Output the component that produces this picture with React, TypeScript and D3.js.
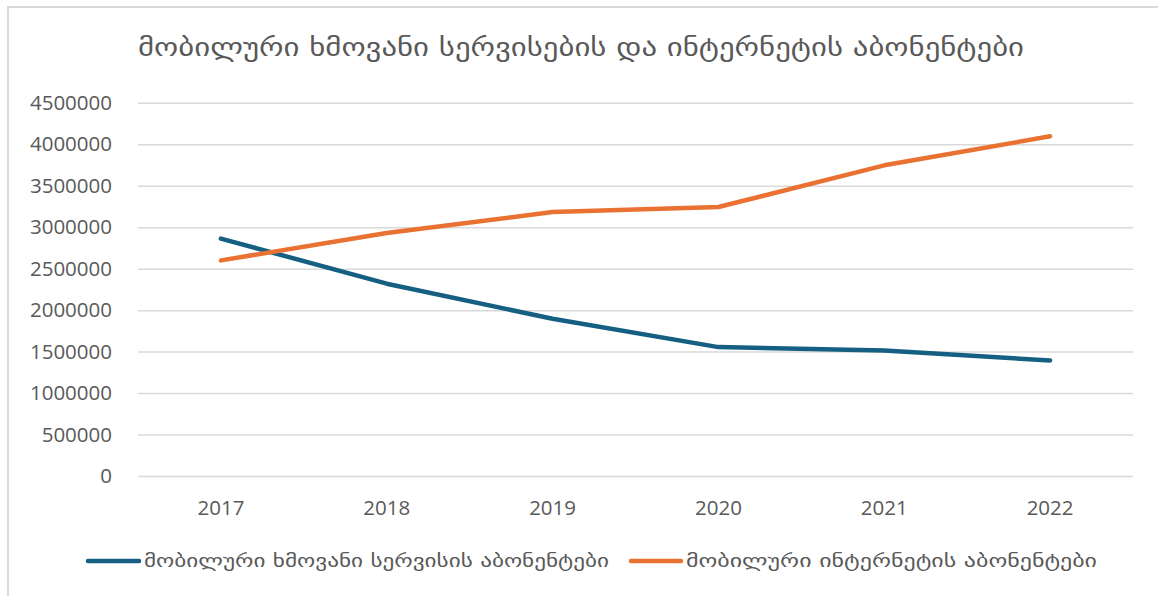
import React from "react";
import * as d3 from "d3";

const years = ["2017", "2018", "2019", "2020", "2021", "2022"];
const voiceSubscribers = [2868000, 2325000, 1902000, 1560000, 1520000, 1399000];
const internetSubscribers = [2606000, 2935000, 3189000, 3249000, 3752000, 4102000];
const yTicks = [0, 500000, 1000000, 1500000, 2000000, 2500000, 3000000, 3500000, 4000000, 4500000];
const titleText = "მობილური ხმოვანი სერვისების და ინტერნეტის აბონენტები";
const voiceLabel = "მობილური ხმოვანი სერვისის აბონენტები";
const internetLabel = "მობილური ინტერნეტის აბონენტები";

const W = 1158;
const H = 596;
const plotLeft = 138;
const plotRight = 1133;
const plotTop = 103.3;
const plotBottom = 476.5;
const blue = "#156082";
const orange = "#E97132";
const textGray = "#595959";
const latin = "'Open Sans', 'Liberation Sans', Arial, sans-serif";
const geo = "'DejaVu Sans', sans-serif";

export default function App() {
  const x = d3.scaleBand<string>().domain(years).range([plotLeft, plotRight]);
  const y = d3.scaleLinear().domain([0, 4500000]).range([plotBottom, plotTop]);
  const cx = (yr: string) => (x(yr) as number) + x.bandwidth() / 2;
  const line = d3
    .line<number>()
    .x((_, i) => cx(years[i]))
    .y((v) => y(v));

  return (
    <svg
      width={W}
      height={H}
      style={{ position: "absolute", left: 0, top: 0 }}
    >
      <rect x={0} y={0} width={W} height={H} fill="#fff" />
      <rect x={8} y={7} width={W + 20} height={H + 20} fill="none" stroke="#d9d9d9" strokeWidth={2} />
      <text
        x={138}
        y={56}
        fontFamily={geo}
        fontSize={26}
        fill={textGray}
        textLength={886}
        lengthAdjust="spacingAndGlyphs"
      >
        {titleText}
      </text>
      {yTicks.map((t) => (
        <g key={t}>
          <line x1={plotLeft} x2={plotRight} y1={y(t)} y2={y(t)} stroke="#d9d9d9" strokeWidth={1.5} />
          <text
            x={112}
            y={y(t) + 6.5}
            textAnchor="end"
            fontFamily={latin}
            fontSize={20.5}
            fill={textGray}
          >
            {t}
          </text>
        </g>
      ))}
      {years.map((yr) => (
        <text key={yr} x={cx(yr)} y={515} textAnchor="middle" fontFamily={latin} fontSize={20.5} fill={textGray}>
          {yr}
        </text>
      ))}
      <path d={line(voiceSubscribers) || ""} fill="none" stroke={blue} strokeWidth={4.5} strokeLinecap="round" strokeLinejoin="round" />
      <path d={line(internetSubscribers) || ""} fill="none" stroke={orange} strokeWidth={4.5} strokeLinecap="round" strokeLinejoin="round" />
      <line x1={88} x2={139} y1={561} y2={561} stroke={blue} strokeWidth={4.5} strokeLinecap="round" />
      <text x={144} y={567} fontFamily={geo} fontSize={18} fill={textGray} textLength={465} lengthAdjust="spacingAndGlyphs">
        {voiceLabel}
      </text>
      <line x1={631} x2={681} y1={561} y2={561} stroke={orange} strokeWidth={4.5} strokeLinecap="round" />
      <text x={686} y={567} fontFamily={geo} fontSize={18} fill={textGray} textLength={411} lengthAdjust="spacingAndGlyphs">
        {internetLabel}
      </text>
    </svg>
  );
}
